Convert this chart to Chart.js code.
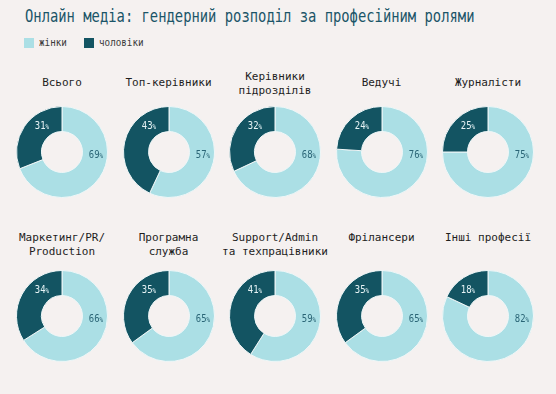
<!DOCTYPE html>
<html>
<head>
<meta charset="utf-8">
<script src="https://cdn.jsdelivr.net/npm/chart.js@4"></script>
<style>
  html,body{margin:0;padding:0;}
  body{width:556px;height:394px;background:#f5f1f0;position:relative;overflow:hidden;font-family:"DejaVu Sans Mono",monospace;}
  #title{position:absolute;left:25px;top:6px;font-size:17.5px;color:#1b5568;white-space:nowrap;transform-origin:0 0;transform:scaleX(0.79);letter-spacing:0px;}
  .leg{position:absolute;top:38px;height:10px;font-size:10.5px;color:#3a3a3a;white-space:nowrap;}
  .sw{position:absolute;left:0;top:0;width:10px;height:10px;}
  .lt{position:absolute;left:15px;top:-2px;transform-origin:0 0;transform:scaleX(0.88);}
  .ct{position:absolute;width:120px;text-align:center;font-size:11px;line-height:13.5px;color:#1e1e1e;white-space:nowrap;}
  .cv{position:absolute;width:100px;height:100px;}
</style>
</head>
<body>
<div id="title">Онлайн медіа: гендерний розподіл за професійним ролями</div>
<div class="leg" style="left:24px"><div class="sw" style="background:#abdfe5"></div><div class="lt">жінки</div></div>
<div class="leg" style="left:84px"><div class="sw" style="background:#135462"></div><div class="lt">чоловіки</div></div>
<div id="wrap"></div>
<script>
const categories = [
  ["Всього"], ["Топ-керівники"], ["Керівники","підрозділів"], ["Ведучі"], ["Журналісти"],
  ["Маркетинг/PR/","Production"], ["Програмна","служба"], ["Support/Admin","та техпрацівники"], ["Фрілансери"], ["Інші професії"]
];
const women = [69, 57, 68, 76, 75, 66, 65, 59, 65, 82];
const men   = [31, 43, 32, 24, 25, 34, 35, 41, 35, 18];
const seriesNames = ["жінки", "чоловіки"];
const colors = ["#abdfe5", "#135462"];
const labelColors = ["#2a6576", "#e6f3f5"];

const labelPlugin = {
  id: 'pctLabels',
  afterDatasetsDraw(chart) {
    const ctx = chart.ctx;
    const a = chart.chartArea;
    const cx = (a.left + a.right) / 2, cy = (a.top + a.bottom) / 2;
    const ds = chart.data.datasets[0].data;
    const pos = [[34, 3], [-20, -26]];
    ds.forEach((v, i) => {
      const x = cx + pos[i][0], y = cy + pos[i][1];
      ctx.save();
      ctx.fillStyle = labelColors[i];
      ctx.textBaseline = 'middle';
      const num = String(v);
      ctx.font = '10.5px "DejaVu Sans Mono"';
      const w1 = ctx.measureText(num).width * 0.85;
      ctx.font = '7px "DejaVu Sans Mono"';
      const w2 = ctx.measureText('%').width * 0.85;
      const start = x - (w1 + w2) / 2;
      ctx.translate(start, y);
      ctx.scale(0.85, 1);
      ctx.textAlign = 'left';
      ctx.font = '10.5px "DejaVu Sans Mono"';
      ctx.fillText(num, 0, 0);
      ctx.font = '7px "DejaVu Sans Mono"';
      ctx.fillText('%', w1 / 0.85, 1);
      ctx.restore();
    });
  }
};

const wrap = document.getElementById('wrap');
categories.forEach((lines, i) => {
  const col = i % 5, row = Math.floor(i / 5);
  const cx = 62 + col * 106.5;
  const cy = row === 0 ? 152 : 316;
  const t = document.createElement('div');
  t.className = 'ct';
  t.style.left = (cx - 60) + 'px';
  let top;
  if (row === 0) top = lines.length === 1 ? 76 : 70;
  else top = 231;
  t.style.top = top + 'px';
  t.innerHTML = lines.join('<br>');
  document.body.appendChild(t);

  const c = document.createElement('canvas');
  c.className = 'cv';
  c.style.left = (cx - 50) + 'px';
  c.style.top = (cy - 50) + 'px';
  document.body.appendChild(c);
  new Chart(c, {
    type: 'doughnut',
    data: {
      labels: seriesNames,
      datasets: [{
        data: [women[i], men[i]],
        backgroundColor: colors,
        borderColor: '#eef6f7',
        borderWidth: 1
      }]
    },
    options: {
      responsive: false,
      animation: false,
      cutout: '45%',
      layout: { padding: 4 },
      plugins: { legend: { display: false }, tooltip: { enabled: false }, title: { display: false } }
    },
    plugins: [labelPlugin]
  });
});
</script>
</body>
</html>
